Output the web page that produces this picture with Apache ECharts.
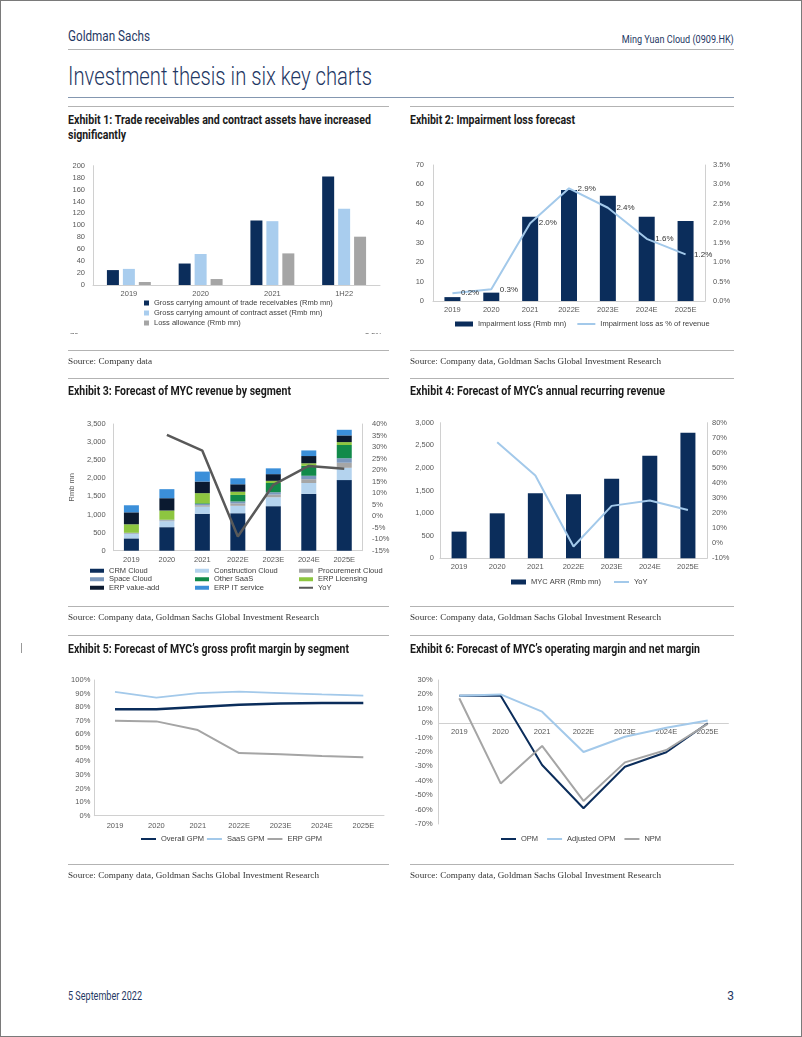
<!DOCTYPE html>
<html><head><meta charset="utf-8">
<script src="https://cdn.jsdelivr.net/npm/echarts@6.0.0/dist/echarts.min.js"></script>
<style>
html,body{margin:0;padding:0;background:#fff;}
#page{position:relative;width:802px;height:1037px;overflow:hidden;background:#fff;}
#frame{position:absolute;left:0;top:0;width:800px;height:1035px;border:1px solid #7a7a7a;}
.t{position:absolute;white-space:nowrap;line-height:1;transform-origin:left top;}
.r{transform-origin:right top;}
.hd{font-family:Roboto,'Liberation Sans',sans-serif;color:#1f3864;}
.ex{font-family:Roboto,'Liberation Sans',sans-serif;font-weight:700;font-size:12px;color:#1a1a1a;}
.src{font-family:'Liberation Serif','DejaVu Serif',serif;font-size:9px;color:#333;}
.ln{position:absolute;height:0;border-top:1.5px solid #b3b3b3;}
.ch{position:absolute;}
</style></head>
<body>
<div id="page">
<div id="frame"></div>
<div class="t hd" style="left:68px;top:29px;font-size:14px;" data-w="82">Goldman Sachs</div>
<div class="t hd r" style="right:68px;top:34px;font-size:11.5px;" data-w="112">Ming Yuan Cloud (0909.HK)</div>
<div class="ln" style="left:68px;top:49px;width:666px;"></div>
<div class="t hd" style="left:68px;top:64px;font-size:25px;font-weight:300;" data-w="304">Investment thesis in six key charts</div>
<div class="ln" style="left:68px;top:97px;width:666px;border-top:1px solid #8497b0;"></div>

<div class="ln" style="left:68px;top:106px;width:321px;"></div>
<div class="ln" style="left:410px;top:106px;width:324px;"></div>
<div class="t ex" style="left:68px;top:114px;" data-w="303">Exhibit 1: Trade receivables and contract assets have increased</div>
<div class="t ex" style="left:68px;top:129px;" data-w="58">significantly</div>
<div class="t ex" style="left:410px;top:114px;" data-w="165">Exhibit 2: Impairment loss forecast</div>

<div class="ch" id="c1" style="left:60px;top:150px;width:340px;height:190px;"></div>
<div class="ch" id="c2" style="left:405px;top:150px;width:340px;height:190px;"></div>
<div style="position:absolute;left:60px;top:331px;width:340px;height:3px;overflow:hidden;">
  <div class="t" style="left:10px;top:1px;font-family:'Liberation Sans',sans-serif;font-size:7.5px;color:#595959;">70</div>
  <div class="t" style="left:305px;top:1px;font-family:'Liberation Sans',sans-serif;font-size:7.5px;color:#595959;">3.5%</div>
</div>

<div class="ln" style="left:68px;top:350px;width:321px;"></div>
<div class="ln" style="left:410px;top:350px;width:324px;"></div>
<div class="t src" style="left:68px;top:356.5px;" data-w="84">Source: Company data</div>
<div class="t src" style="left:410px;top:356.5px;" data-w="251">Source: Company data, Goldman Sachs Global Investment Research</div>
<div class="ln" style="left:68px;top:378px;width:321px;"></div>
<div class="ln" style="left:410px;top:378px;width:324px;"></div>
<div class="t ex" style="left:68px;top:385px;" data-w="223">Exhibit 3: Forecast of MYC revenue by segment</div>
<div class="t ex" style="left:410px;top:385px;" data-w="255">Exhibit 4: Forecast of MYC’s annual recurring revenue</div>

<div class="ch" id="c3" style="left:60px;top:385px;width:340px;height:215px;"></div>
<div class="ch" id="c4" style="left:405px;top:385px;width:340px;height:215px;"></div>

<div class="ln" style="left:68px;top:606px;width:321px;"></div>
<div class="ln" style="left:410px;top:606px;width:324px;"></div>
<div class="t src" style="left:68px;top:612.5px;" data-w="251">Source: Company data, Goldman Sachs Global Investment Research</div>
<div class="t src" style="left:410px;top:612.5px;" data-w="251">Source: Company data, Goldman Sachs Global Investment Research</div>
<div class="ln" style="left:68px;top:635px;width:321px;"></div>
<div class="ln" style="left:410px;top:635px;width:324px;"></div>
<div style="position:absolute;left:21px;top:643px;width:1px;height:10px;background:#999;"></div>
<div class="t ex" style="left:68px;top:643px;" data-w="281">Exhibit 5: Forecast of MYC’s gross profit margin by segment</div>
<div class="t ex" style="left:410px;top:643px;" data-w="290">Exhibit 6: Forecast of MYC’s operating margin and net margin</div>

<div class="ch" id="c5" style="left:60px;top:670px;width:340px;height:195px;"></div>
<div class="ch" id="c6" style="left:405px;top:670px;width:340px;height:195px;"></div>

<div class="ln" style="left:68px;top:864px;width:321px;"></div>
<div class="ln" style="left:410px;top:864px;width:324px;"></div>
<div class="t src" style="left:68px;top:870.5px;" data-w="251">Source: Company data, Goldman Sachs Global Investment Research</div>
<div class="t src" style="left:410px;top:870.5px;" data-w="251">Source: Company data, Goldman Sachs Global Investment Research</div>

<div class="t hd" style="left:68px;top:990px;font-size:12px;" data-w="74">5 September 2022</div>
<div class="t hd r" style="right:68px;top:990px;font-size:12px;">3</div>
</div>

<script>
// ---------- DATA ----------
const ex1Cats = ['2019', '2020', '2021', '1H22'];
const ex1Trade = [25, 36, 108, 182];
const ex1Contract = [27, 52, 107, 128];
const ex1Loss = [5, 10, 53, 81];

const yearsE = ['2019', '2020', '2021', '2022E', '2023E', '2024E', '2025E'];

const ex2Impairment = [2, 4.3, 43.4, 57.1, 54.2, 43.4, 41.2];
const ex2ImpairmentPct = [0.2, 0.3, 2.0, 2.9, 2.4, 1.6, 1.2];

const ex3CRM = [340, 650, 1020, 1035, 1230, 1570, 1950];
const ex3Construction = [120, 165, 195, 205, 245, 300, 340];
const ex3Procurement = [20, 20, 40, 65, 75, 105, 140];
const ex3Space = [15, 20, 35, 55, 65, 95, 125];
const ex3OtherSaaS = [0, 0, 20, 180, 255, 275, 365];
const ex3ERPLicensing = [235, 255, 280, 90, 60, 70, 80];
const ex3ERPValueAdd = [330, 340, 320, 205, 185, 200, 185];
const ex3ERPIT = [195, 250, 275, 165, 160, 155, 155];
const ex3YoY = [null, 35.3, 28.4, -8.8, 13.6, 21.8, 20.6];

const ex4ARR = [590, 995, 1437, 1415, 1762, 2270, 2779];
const ex4YoY = [null, 67, 45, -2.2, 24.8, 28.3, 22.1];

const ex5Overall = [78.4, 78.4, 80.1, 81.8, 82.6, 83.0, 83.0];
const ex5SaaS = [91.2, 87.0, 90.4, 91.4, 90.4, 89.4, 88.5];
const ex5ERP = [70.0, 69.5, 63.1, 46.2, 45.2, 44.0, 43.0];

const ex6OPM = [19.1, 19.1, -29.0, -59.1, -30.2, -20.2, 0.0];
const ex6AdjOPM = [19.1, 20.0, 8.0, -20.0, -9.4, -3.1, 1.8];
const ex6NPM = [17.3, -41.8, -15.8, -54.0, -27.2, -18.6, -0.5];

// ---------- STYLE ----------
const FONT = "'Liberation Sans', Arial, sans-serif";
const AX = '#595959';
const LINEC = '#d0d0d0';
const NAVY = '#0b2d5b';
const LBLUE = '#a9cdee';
const GRAY = '#a5a5a5';
const LLINE = '#a3c9ea';
const LT = {fontSize: 7.5, color: '#404040', fontFamily: FONT};
const lineItem = n => ({name: n, itemStyle: {opacity: 0}});

function catAxis(data, margin, extra) {
  return Object.assign({
    type: 'category', data: data,
    axisTick: {show: false},
    axisLine: {lineStyle: {color: LINEC, width: 1}},
    axisLabel: {fontSize: 7.5, color: AX, fontFamily: FONT, margin: margin}
  }, extra || {});
}
function valAxis(min, max, interval, fmt, margin, extra) {
  return Object.assign({
    type: 'value', min: min, max: max, interval: interval,
    splitLine: {show: false},
    axisTick: {show: false},
    axisLine: {show: true, lineStyle: {color: LINEC, width: 1}},
    axisLabel: {fontSize: 7.5, color: AX, fontFamily: FONT, margin: margin, formatter: fmt}
  }, extra || {});
}
const thou = v => v.toLocaleString('en-US');
const pct0 = v => v + '%';
const pct1 = v => v.toFixed(1) + '%';

function mk(id, opt) {
  const c = echarts.init(document.getElementById(id), null, {renderer: 'canvas'});
  opt.animation = false;
  opt.textStyle = {fontFamily: FONT};
  c.setOption(opt);
}

// Exhibit 1
mk('c1', {
  grid: {left: 33, right: 20, top: 15.7, bottom: 55},
  xAxis: catAxis(ex1Cats, 5),
  yAxis: valAxis(0, 200, 20, null, 8),
  legend: {orient: 'vertical', left: 84, top: 148.5, padding: 0, itemWidth: 5, itemHeight: 5, itemGap: 1, icon: 'rect',
    textStyle: Object.assign({lineHeight: 9}, LT),
    data: ['Gross carrying amount of trade receivables (Rmb mn)', 'Gross carrying amount of contract asset (Rmb mn)', 'Loss allowance (Rmb mn)']},
  series: [
    {type: 'bar', name: 'Gross carrying amount of trade receivables (Rmb mn)', data: ex1Trade, barWidth: 12, barGap: '33%', itemStyle: {color: NAVY}},
    {type: 'bar', name: 'Gross carrying amount of contract asset (Rmb mn)', data: ex1Contract, barWidth: 12, barGap: '33%', itemStyle: {color: LBLUE}},
    {type: 'bar', name: 'Loss allowance (Rmb mn)', data: ex1Loss, barWidth: 12, barGap: '33%', itemStyle: {color: GRAY}}
  ]
});

// Exhibit 2
mk('c2', {
  grid: {left: 28, right: 40, top: 15, bottom: 39},
  xAxis: catAxis(yearsE, 5),
  yAxis: [valAxis(0, 70, 10, null, 9), valAxis(0, 3.5, 0.5, pct1, 8)],
  legend: {left: 50, top: 170, padding: 0, itemWidth: 18, itemHeight: 5, itemGap: 10, textStyle: LT,
    data: [{name: 'Impairment loss (Rmb mn)', icon: 'rect'}, lineItem('Impairment loss as % of revenue')]},
  series: [
    {type: 'bar', name: 'Impairment loss (Rmb mn)', data: ex2Impairment, barWidth: 16, itemStyle: {color: NAVY}},
    {type: 'line', name: 'Impairment loss as % of revenue', yAxisIndex: 1, data: ex2ImpairmentPct,
      symbol: 'circle', symbolSize: 0.1, showSymbol: true,
      lineStyle: {color: LLINE, width: 2}, itemStyle: {color: LLINE},
      label: {show: true, position: 'right', distance: 8.5, fontSize: 8, color: '#333', fontFamily: FONT,
        formatter: p => p.value.toFixed(1) + '%'}}
  ]
});

// Exhibit 3
const ex3Colors = {
  'CRM Cloud': '#0b2d5b', 'Construction Cloud': '#b4d3ee', 'Procurement Cloud': '#a6a6a6',
  'Space Cloud': '#7b98bd', 'Other SaaS': '#128a4a', 'ERP Licensing': '#8dc640',
  'ERP value-add': '#0b1a30', 'ERP IT service': '#3b8fd9'
};
const ex3Series = [
  ['CRM Cloud', ex3CRM], ['Construction Cloud', ex3Construction], ['Procurement Cloud', ex3Procurement],
  ['Space Cloud', ex3Space], ['Other SaaS', ex3OtherSaaS], ['ERP Licensing', ex3ERPLicensing],
  ['ERP value-add', ex3ERPValueAdd], ['ERP IT service', ex3ERPIT]
].map(([n, d]) => ({type: 'bar', name: n, data: d, stack: 'rev', barWidth: 15, itemStyle: {color: ex3Colors[n]}}));
ex3Series.push({type: 'line', name: 'YoY', yAxisIndex: 1, data: ex3YoY, symbol: 'none', lineStyle: {color: '#595959', width: 2.5}, itemStyle: {color: '#595959'}});
const lg3 = (left, names) => ({orient: 'vertical', left: left, top: 181.5, padding: 0, itemWidth: 14, itemHeight: 4, itemGap: 0,
  textStyle: Object.assign({lineHeight: 8.5}, LT),
  data: names.map(n => n === 'YoY' ? lineItem(n) : {name: n, icon: 'rect'})});
mk('c3', {
  grid: {left: 50, right: 38, top: 39, bottom: 49.3},
  xAxis: catAxis(yearsE, 5),
  yAxis: [valAxis(0, 3500, 500, thou, 8, {name: 'Rmb mn', nameLocation: 'middle', nameGap: 33,
            nameTextStyle: {fontSize: 7.5, color: AX, fontFamily: FONT}}),
          valAxis(-15, 40, 5, pct0, 10)],
  legend: [lg3(30, ['CRM Cloud', 'Space Cloud', 'ERP value-add']),
           lg3(135, ['Construction Cloud', 'Other SaaS', 'ERP IT service']),
           lg3(238, ['Procurement Cloud', 'ERP Licensing', 'YoY'])],
  series: ex3Series
});

// Exhibit 4
mk('c4', {
  grid: {left: 35, right: 38, top: 37.7, bottom: 41.7},
  xAxis: catAxis(yearsE, 5),
  yAxis: [valAxis(0, 3000, 500, thou, 6), valAxis(-10, 80, 10, pct0, 5)],
  legend: {left: 106, top: 193, padding: 0, itemWidth: 15, itemHeight: 5, itemGap: 12, textStyle: LT,
    data: [{name: 'MYC ARR (Rmb mn)', icon: 'rect'}, lineItem('YoY')]},
  series: [
    {type: 'bar', name: 'MYC ARR (Rmb mn)', data: ex4ARR, barWidth: 15, itemStyle: {color: NAVY}},
    {type: 'line', name: 'YoY', yAxisIndex: 1, data: ex4YoY, symbol: 'none', lineStyle: {color: LLINE, width: 2}, itemStyle: {color: LLINE}}
  ]
});

// Exhibit 5
mk('c5', {
  grid: {left: 34.3, right: 16, top: 10, bottom: 49.3},
  xAxis: catAxis(yearsE, 6),
  yAxis: valAxis(0, 100, 10, pct0, 4),
  legend: {left: 80, top: 165, padding: 0, itemWidth: 15, itemHeight: 4, itemGap: 2, textStyle: LT,
    data: [lineItem('Overall GPM'), lineItem('SaaS GPM'), lineItem('ERP GPM')]},
  series: [
    {type: 'line', name: 'Overall GPM', data: ex5Overall, symbol: 'none', lineStyle: {color: NAVY, width: 2.5}, itemStyle: {color: NAVY}},
    {type: 'line', name: 'SaaS GPM', data: ex5SaaS, symbol: 'none', lineStyle: {color: LLINE, width: 1.8}, itemStyle: {color: LLINE}},
    {type: 'line', name: 'ERP GPM', data: ex5ERP, symbol: 'none', lineStyle: {color: GRAY, width: 2}, itemStyle: {color: GRAY}}
  ]
});

// Exhibit 6
mk('c6', {
  grid: {left: 33.6, right: 16.6, top: 10, bottom: 41},
  xAxis: catAxis(yearsE, -96, {axisLine: {onZero: true, lineStyle: {color: LINEC, width: 1}}}),
  yAxis: valAxis(-70, 30, 10, pct0, 6),
  legend: {left: 95, top: 165, padding: 0, itemWidth: 15, itemHeight: 4, itemGap: 8, textStyle: LT,
    data: [lineItem('OPM'), lineItem('Adjusted OPM'), lineItem('NPM')]},
  series: [
    {type: 'line', name: 'OPM', data: ex6OPM, symbol: 'none', lineStyle: {color: NAVY, width: 2}, itemStyle: {color: NAVY}},
    {type: 'line', name: 'Adjusted OPM', data: ex6AdjOPM, symbol: 'none', lineStyle: {color: LLINE, width: 2}, itemStyle: {color: LLINE}},
    {type: 'line', name: 'NPM', data: ex6NPM, symbol: 'none', lineStyle: {color: GRAY, width: 2}, itemStyle: {color: GRAY}}
  ]
});

// fit condensed header texts to their widths
document.querySelectorAll('[data-w]').forEach(el => {
  const w = parseFloat(el.dataset.w);
  const a = el.getBoundingClientRect().width;
  if (a > 0) el.style.transform = 'scaleX(' + (w / a) + ')';
});
</script>
</body></html>
